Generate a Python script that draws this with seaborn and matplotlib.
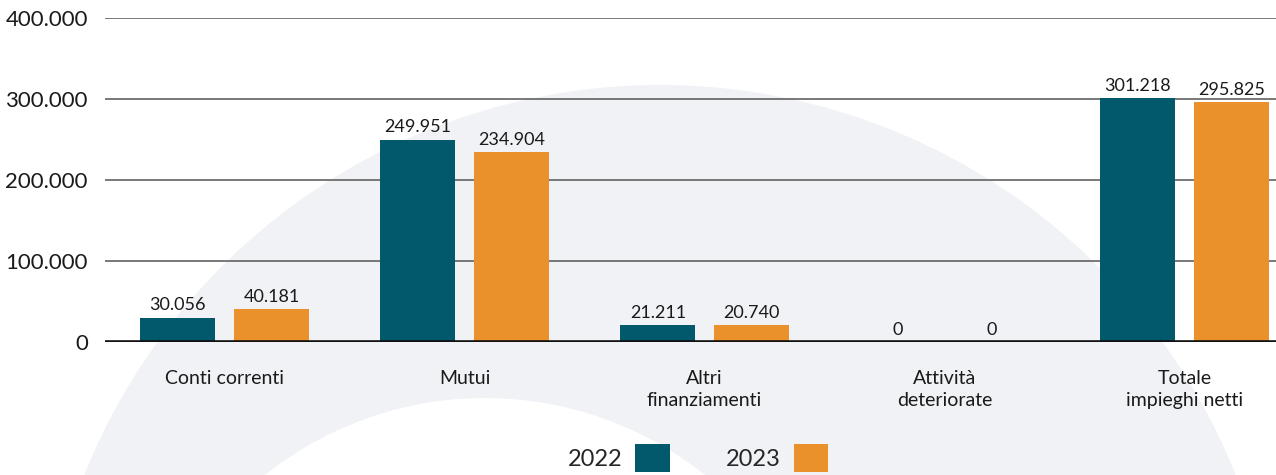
import pandas as pd
import matplotlib.pyplot as plt
import seaborn as sns
from matplotlib.patches import Circle

# dati
categorie = ["Conti correnti", "Mutui", "Altri\nfinanziamenti",
             "Attività\ndeteriorate", "Totale\nimpieghi netti"]
anni = ["2022", "2023"]
valori_2022 = [30056, 249951, 21211, 0, 301218]
valori_2023 = [40181, 234904, 20740, 0, 295825]
tick_y = [0, 100000, 200000, 300000, 400000]

TEAL = "#01596b"
ORANGE = "#eb912b"


def fmt(v):
    return f"{v:,.0f}".replace(",", ".")


df = pd.DataFrame({
    "categoria": categorie * 2,
    "anno": [anni[0]] * len(categorie) + [anni[1]] * len(categorie),
    "valore": valori_2022 + valori_2023,
})

sns.set_theme(style="white")
plt.rcParams["font.family"] = ["Lato", "DejaVu Sans"]

fig = plt.figure(figsize=(12.76, 4.75), dpi=100)

# decorazione di sfondo (anello grigio chiaro)
bg = fig.add_axes([0, 0, 1, 1], zorder=0)
bg.set_xlim(0, 1276)
bg.set_ylim(475, 0)
bg.set_aspect("equal")
bg.axis("off")
bg.add_patch(Circle((660, 705), 620, color="#f1f2f6", lw=0))
bg.add_patch(Circle((485, 751), 353, color="white", lw=0))

# l'asse continua oltre il bordo destro della figura
ax = fig.add_axes([0.082, 0.28, 0.9404, 0.682], zorder=1)
ax.set_facecolor("none")

sns.barplot(data=df, x="categoria", y="valore", hue="anno",
            palette=[TEAL, ORANGE], width=0.78, gap=0.2,
            saturation=1, linewidth=0, ax=ax, zorder=3)

for cont in ax.containers:
    vals = [b.get_height() for b in cont]
    ax.bar_label(cont, labels=[fmt(v) for v in vals], padding=3,
                 fontsize=13, color="#1a1a1a")

ax.set_ylim(0, 400000)
ax.set_yticks(tick_y)
ax.set_yticklabels([fmt(t) for t in tick_y], fontsize=16, color="#1a1a1a")
ax.yaxis.grid(True, color="#555555", lw=1.1, zorder=0)
ax.set_axisbelow(True)
ax.axhline(0, color="#111111", lw=2.6, zorder=4)
ax.tick_params(axis="y", length=0, pad=12)
ax.tick_params(axis="x", length=0, pad=20, labelsize=14, labelcolor="#1a1a1a")
for lab in ax.get_xticklabels():
    lab.set_linespacing(1.4)
ax.set_xlabel("")
ax.set_ylabel("")
sns.despine(ax=ax, left=True, bottom=True)

ax.legend_.remove()
handles, labels = ax.get_legend_handles_labels()
fig.legend(handles, labels, loc="center", bbox_to_anchor=(0.547, 0.035),
           ncol=2, frameon=False, markerfirst=False, fontsize=17,
           handlelength=1.45, handleheight=1.45, handletextpad=0.55,
           columnspacing=2.4)

fig.savefig("out.png", dpi=100)
